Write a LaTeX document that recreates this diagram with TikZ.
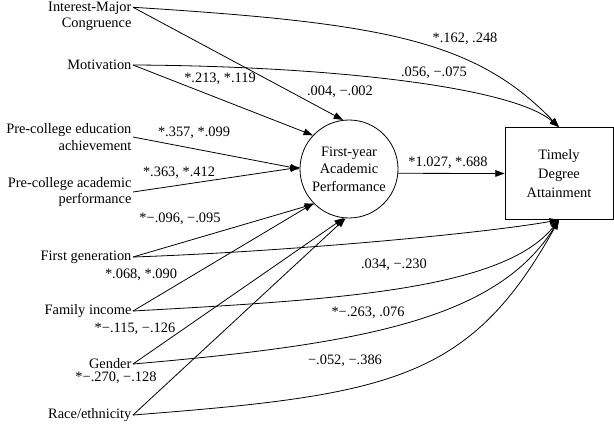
\documentclass[tikz,border=0pt]{standalone}
\usepackage{fontspec}
\setmainfont{Liberation Serif}
\usetikzlibrary{arrows.meta, positioning}

\begin{document}
\begin{tikzpicture}[
        x=0.75pt, y=-0.75pt,
        font=\fontsize{10.8}{12.2}\selectfont,
        var/.style={align=right, inner sep=1pt, anchor=east},
        coef/.style={inner sep=1pt},
        arr/.style={draw, line width=0.6pt, -{Triangle[length=7pt, width=5pt]}}
    ]
    \useasboundingbox (0,0) rectangle (614,424);

    % Nodes
    \node[var] (interest) at (133,16) {Interest-Major\\ Congruence};
    \node[var] (motivation) at (133,65) {Motivation};
    \node[var] (education) at (133,137) {Pre-college education\\ achievement};
    \node[var] (academic) at (133,192) {Pre-college academic\\ performance};
    \node[var] (firstgen) at (133,257) {First generation};
    \node[var] (income) at (133,311) {Family income};
    \node[var] (gender) at (133,364) {Gender};
    \node[var] (race) at (133,415) {Race/ethnicity};
    \coordinate (interest-out) at ([yshift=-5.5pt]interest.north east);

    \node[draw, circle, line width=0.6pt, minimum size=73.5pt, inner sep=1pt, align=center,
          font=\fontsize{10.8}{13}\selectfont] (fyap) at (349,169)
          {First-year\\ Academic\\ Performance};
    \node[draw, line width=0.6pt, minimum width=81pt, minimum height=69pt, align=center,
          font=\fontsize{10.8}{14}\selectfont] (tda) at (559,173.5)
          {Timely\\ Degree\\ Attainment};

    % Coefficients
    \node[coef] (c-int-tda) at (465,39) {*.162, .248};
    \node[coef] (c-mot-tda) at (434,73) {.056, −.075};
    \node[coef] (c-int-fy) at (340,92) {.004, −.002};
    \node[coef] (c-mot-fy) at (220,79) {*.213, *.119};
    \node[coef] (c-edu-fy) at (194,133) {*.357, *.099};
    \node[coef] (c-aca-fy) at (179,173) {*.363, *.412};
    \node[coef] (c-gen-fy) at (180,219) {*−.096, −.095};
    \node[coef] (c-inc-fy) at (141,275) {*.068, *.090};
    \node[coef] (c-gend-fy) at (135,329) {*−.115, −.126};
    \node[coef] (c-race-fy) at (116,378) {*−.270, −.128};
    \node[coef] (c-fy-tda) at (448,163) {*1.027, *.688};
    \node[coef] (c-gen-tda) at (394,265) {.034, −.230};
    \node[coef] (c-inc-tda) at (368,313) {*−.263, .076};
    \node[coef] (c-gend-tda) at (345,361) {−.052, −.386};

    % Edges
    \draw[arr] (interest-out) -- (fyap.97);
    \draw[arr] (motivation.east) -- (fyap.137);
    \draw[arr] (education.east) -- (fyap.180);
    \draw[arr] (academic.east) -- (fyap.178);
    \draw[arr] (firstgen.east) -- (fyap.225);
    \draw[arr] (income.east) -- (fyap.224);
    \draw[arr] (gender.east) -- (fyap.264);
    \draw[arr] (race.east) -- (fyap.266);
    \draw[arr] (fyap.-5) -- (tda.west);

    \draw[arr] (interest-out) .. controls (384,23) and (475,40) .. (tda.north);
    \draw[arr] (motivation.east) .. controls (325,66) and (511,86) .. (tda.north);
    \draw[arr] (firstgen.east) .. controls (280,252) and (480,234) .. (tda.south);
    \draw[arr] (income.east) .. controls (330,300) and (502,291) .. (tda.south);
    \draw[arr] (gender.east) .. controls (364,344) and (497,319) .. (tda.south);
    \draw[arr] (race.east) .. controls (391,395) and (470,380) .. (tda.south);
\end{tikzpicture}
\end{document}
